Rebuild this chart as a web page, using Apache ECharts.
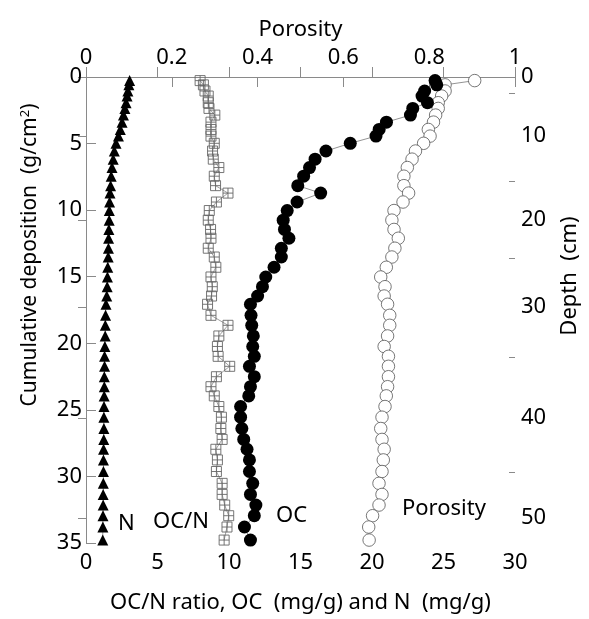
<!DOCTYPE html>
<html><head><meta charset="utf-8">
<script src="https://cdn.jsdelivr.net/npm/echarts@6/dist/echarts.min.js"></script>
<style>html,body{margin:0;padding:0;background:#fff}#c{width:589px;height:619px}</style>
</head><body><div id="c"></div>
<script>
// cumulative deposition (g/cm2) of each sample
const cumDep = [0.27,0.59,1.05,1.43,1.93,2.36,2.86,3.39,3.94,4.44,4.98,5.56,6.17,6.80,7.45,8.16,8.72,9.39,10.03,10.75,11.45,12.11,12.86,13.52,14.29,15.02,15.75,16.45,17.07,17.90,18.65,19.45,20.24,20.98,21.73,22.51,23.26,23.95,24.75,25.55,26.40,27.22,27.96,28.76,29.63,30.52,31.35,32.15,32.95,33.80,34.78];
const nVals = [3.05,3.00,2.93,2.87,2.80,2.72,2.62,2.52,2.40,2.27,2.10,1.98,1.90,1.82,1.76,1.72,1.68,1.65,1.63,1.62,1.60,1.58,1.57,1.55,1.52,1.50,1.48,1.45,1.40,1.37,1.35,1.34,1.32,1.30,1.30,1.28,1.28,1.27,1.26,1.25,1.25,1.24,1.23,1.22,1.22,1.21,1.20,1.20,1.19,1.18,1.17];
const ocnVals = [7.98,8.21,8.32,8.55,8.55,8.60,9.01,8.74,8.74,8.74,8.97,8.85,8.90,9.29,8.97,9.06,9.93,9.12,8.62,8.55,8.71,8.74,8.55,8.97,9.08,8.74,8.83,8.78,8.50,8.74,9.93,9.29,9.19,9.24,10.05,9.12,8.74,8.97,9.29,9.47,9.43,9.52,9.08,9.19,9.12,9.52,9.52,9.70,9.98,9.86,9.66];
const ocVals = [24.41,24.53,23.68,23.50,23.88,22.85,22.69,21.01,20.50,20.28,18.48,16.78,16.02,15.63,15.22,14.81,16.41,14.76,14.07,13.79,13.88,14.19,13.66,13.66,13.15,12.57,12.34,12.00,11.50,11.54,11.59,11.70,11.66,11.77,11.43,11.77,11.50,11.38,10.81,10.81,10.90,11.03,11.26,11.43,11.43,11.66,11.50,11.88,11.77,11.08,11.50];
const porosityVals = [0.906,0.837,0.837,0.829,0.821,0.821,0.815,0.810,0.798,0.802,0.787,0.768,0.760,0.749,0.741,0.741,0.752,0.739,0.718,0.713,0.718,0.728,0.720,0.713,0.700,0.687,0.697,0.695,0.703,0.708,0.708,0.703,0.695,0.705,0.705,0.705,0.703,0.700,0.697,0.690,0.687,0.690,0.695,0.693,0.690,0.683,0.690,0.683,0.668,0.659,0.660];
// depth scale (cm) on right axis and the cumulative deposition where each tick falls
const depthMajorLabels = [0,10,20,30,40,50];
const depthMajorCum = [0,4.43,10.75,17.27,25.61,33.12];
const depthMinorLabels = [5,15,25,35,45];
const depthMinorCum = [1.21,7.85,13.60,21.03,29.65];
const bottomTicks = [0,5,10,15,20,25,30];
const topTicks = [0,0.2,0.4,0.6,0.8,1];
const leftTicks = [0,5,10,15,20,25,30,35];

const FONT = 'Noto Sans';
const FS = 22;
const AX = '#8a8a8a';
const pair = (xs) => xs.map((x, i) => [x, cumDep[i]]);
const chart = echarts.init(document.getElementById('c'), null, {renderer: 'canvas'});
const lbl = {color: '#000', fontFamily: FONT, fontSize: FS};
chart.setOption({
  animation: false,
  backgroundColor: '#fff',
  grid: {left: 86, right: 68, top: 77, bottom: 71, containLabel: false},
  xAxis: [
    {type: 'value', position: 'bottom', min: 0, max: 30, interval: 5,
     name: 'OC/N ratio, OC  (mg/g) and N  (mg/g)', nameLocation: 'middle', nameGap: 49,
     nameTextStyle: lbl,
     axisLine: {show: true, lineStyle: {color: AX, width: 1}},
     axisTick: {show: true, inside: true, length: 10, lineStyle: {color: AX}},
     axisLabel: Object.assign({margin: 9}, lbl),
     splitLine: {show: false}},
    {type: 'value', position: 'top', min: 0, max: 1, interval: 0.2,
     name: 'Porosity', nameLocation: 'middle', nameGap: 36,
     nameTextStyle: lbl,
     axisLine: {show: true, lineStyle: {color: AX, width: 1}},
     axisTick: {show: true, inside: true, length: 10, lineStyle: {color: AX}},
     axisLabel: Object.assign({margin: 8, formatter: v => String(+v.toFixed(1))}, lbl),
     splitLine: {show: false}}
  ],
  yAxis: [
    {type: 'value', position: 'left', min: 0, max: 35, interval: 5, inverse: true,
     name: 'Cumulative deposition  (g/cm{sup|2})', nameLocation: 'middle', nameGap: 44, nameRotate: 90,
     nameTextStyle: Object.assign({padding: [0, 0, 0, 110], rich: {sup: {fontFamily: FONT, fontSize: 13, verticalAlign: 'top', padding: [0,0,10,0], color: '#000'}}}, lbl, {fontSize: 21}),
     axisLine: {show: true, lineStyle: {color: AX, width: 1}},
     axisTick: {show: true, inside: true, length: 10, lineStyle: {color: AX}},
     axisLabel: Object.assign({margin: 4}, lbl),
     splitLine: {show: false}},
    {type: 'value', position: 'right', min: 0, max: 35, inverse: true,
     name: 'Depth  (cm)', nameLocation: 'middle', nameGap: 44, nameRotate: 90,
     nameTextStyle: Object.assign({padding: [0, 0, 0, 68]}, lbl),
     axisLine: {show: true, lineStyle: {color: AX, width: 1}},
     axisTick: {show: true, inside: true, length: 8, customValues: depthMajorCum, lineStyle: {color: AX}},
     axisLabel: Object.assign({margin: 6, customValues: depthMajorCum,
       formatter: v => { const i = depthMajorCum.indexOf(v); return i >= 0 ? String(depthMajorLabels[i]) : ''; }}, lbl),
     splitLine: {show: false}},
    {type: 'value', position: 'right', min: 0, max: 35, inverse: true,
     axisLine: {show: false},
     axisTick: {show: true, inside: true, length: 6, customValues: depthMinorCum, lineStyle: {color: AX}},
     axisLabel: {show: false},
     splitLine: {show: false}}
  ],
  series: [
    {name: 'N', type: 'line', xAxisIndex: 0, yAxisIndex: 0, data: pair(nVals),
     symbol: 'triangle', symbolSize: [11, 11],
     itemStyle: {color: '#000'}, lineStyle: {color: '#777', width: 0.7}, z: 3},
    {name: 'OC/N', type: 'line', xAxisIndex: 0, yAxisIndex: 0, data: pair(ocnVals),
     symbol: 'path://M0,0H10V10H0Z M5,0V10 M0,5H10', symbolSize: 10, symbolKeepAspect: true,
     itemStyle: {color: 'rgba(255,255,255,0)', borderColor: '#666', borderWidth: 0.9},
     lineStyle: {color: '#777', width: 0.7}, z: 3},
    {name: 'OC', type: 'line', xAxisIndex: 0, yAxisIndex: 0, data: pair(ocVals),
     symbol: 'circle', symbolSize: 13,
     itemStyle: {color: '#000'}, lineStyle: {color: '#777', width: 0.8}, z: 4},
    {name: 'Porosity', type: 'line', xAxisIndex: 1, yAxisIndex: 0, data: pair(porosityVals),
     symbol: 'circle', symbolSize: 12.5,
     itemStyle: {color: '#fff', borderColor: '#555', borderWidth: 0.8},
     lineStyle: {color: '#777', width: 0.8}, z: 3}
  ],
  graphic: [
    {type: 'text', left: 118, top: 513, style: {text: 'N', font: FS + 'px "' + FONT + '"', fill: '#000'}},
    {type: 'text', left: 153, top: 511, style: {text: 'OC/N', font: FS + 'px "' + FONT + '"', fill: '#000'}},
    {type: 'text', left: 276, top: 505, style: {text: 'OC', font: FS + 'px "' + FONT + '"', fill: '#000'}},
    {type: 'text', left: 402, top: 498, style: {text: 'Porosity', font: FS + 'px "' + FONT + '"', fill: '#000'}}
  ]
});
</script></body></html>
